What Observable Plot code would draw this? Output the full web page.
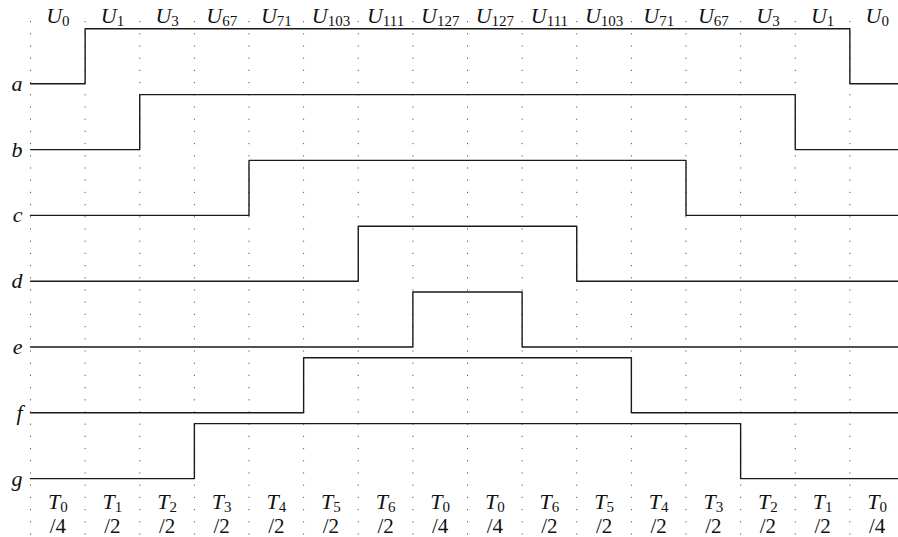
<!DOCTYPE html>
<html>
<head>
<meta charset="utf-8">
<script src="https://cdn.jsdelivr.net/npm/d3@7"></script>
<script src="https://cdn.jsdelivr.net/npm/@observablehq/plot@0.6"></script>
<style>
  html, body { margin: 0; padding: 0; background: #fff; overflow: hidden; }
</style>
</head>
<body>
<div id="chart"></div>
<script>
// Switch signals, one per row; bit i of a state code is the level of row i
const rows = ["a", "b", "c", "d", "e", "f", "g"];
// State code U_k applied during each of the 16 time slots
const codes = [0, 1, 3, 67, 71, 103, 111, 127, 127, 111, 103, 71, 67, 3, 1, 0];
// Dwell time of each slot: T_index / divisor
const periodIndex = [0, 1, 2, 3, 4, 5, 6, 0, 0, 6, 5, 4, 3, 2, 1, 0];
const periodDivisor = [4, 2, 2, 2, 2, 2, 2, 4, 4, 2, 2, 2, 2, 2, 2, 4];

const pulse = 0.836; // height of a high level, in row units

const slots = codes.map((code, i) => ({
  slot: i,
  code,
  t: periodIndex[i],
  div: periodDivisor[i]
}));

// Step-line vertices: one per slot boundary, the last repeating the final state
const steps = rows.flatMap((name, r) =>
  d3.range(codes.length + 1).map(k => {
    const code = codes[Math.min(k, codes.length - 1)];
    const high = (code >> r) & 1;
    return {row: name, x: k, y: r - high * pulse};
  })
);

const serif = "Liberation Serif, Times New Roman, serif";

const svg = Plot.plot({
  width: 898,
  height: 537,
  marginTop: 0,
  marginRight: 0,
  marginBottom: 0,
  marginLeft: 0,
  style: {fontFamily: serif, background: "#fff"},
  x: {domain: [0, 16], range: [30, 904], axis: null},
  y: {domain: [0, 6], range: [83.3, 478.1], axis: null},
  marks: [
    // dotted slot boundaries
    Plot.ruleX(d3.range(codes.length), {
      stroke: "#555",
      strokeWidth: 1,
      strokeDasharray: "1.2,11",
      insetTop: 21
    }),
    // switching waveforms
    Plot.line(steps, {
      x: "x",
      y: "y",
      z: "row",
      curve: "step-after",
      stroke: "#1a1a1a",
      strokeWidth: 1.4,
      clip: true
    }),
    // row names
    Plot.text(rows, {
      x: () => 0,
      y: (d, i) => i,
      text: d => d,
      dx: -8,
      textAnchor: "end",
      fontStyle: "italic",
      fontSize: 22,
      fill: "#111"
    }),
    // state code above each slot
    Plot.text(slots, {
      x: d => d.slot + 0.5,
      text: d => "U" + d.code,
      frameAnchor: "top",
      lineAnchor: "bottom",
      dy: 22,
      fontSize: 22,
      fill: "#111"
    }),
    // dwell time below each slot
    Plot.text(slots, {
      x: d => d.slot + 0.5,
      text: d => "T" + d.t,
      frameAnchor: "bottom",
      lineAnchor: "bottom",
      dy: -29,
      fontSize: 22,
      fill: "#111"
    }),
    Plot.text(slots, {
      x: d => d.slot + 0.5,
      text: d => "/" + d.div,
      frameAnchor: "bottom",
      lineAnchor: "bottom",
      dy: -5,
      fontSize: 21,
      fill: "#111"
    })
  ]
});

// Typeset "U127" / "T3" as an italic symbol with a subscript index
d3.select(svg).selectAll("text").each(function () {
  const m = /^([UT])(\d+)$/.exec(this.textContent);
  if (!m) return;
  const t = d3.select(this).text(null);
  t.append("tspan").attr("font-style", "italic").text(m[1]);
  t.append("tspan").attr("font-size", 15).attr("dy", "0.22em").text(m[2]);
});

document.getElementById("chart").appendChild(svg);
</script>
</body>
</html>
